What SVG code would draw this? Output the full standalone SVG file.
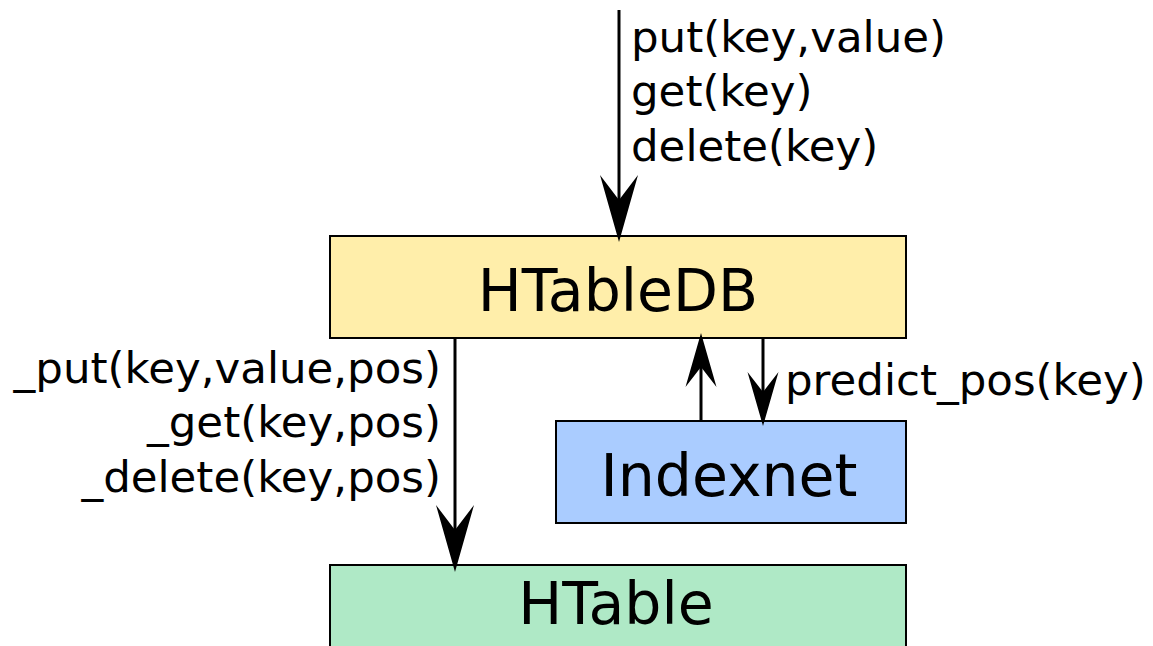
<svg xmlns="http://www.w3.org/2000/svg" width="1153" height="646" viewBox="0 0 1153 646">
  <style>
    .box { stroke: #000; stroke-width: 2; }
    .name { font-family: "DejaVu Sans", sans-serif; font-size: 58.5px; fill: #000; text-anchor: middle; }
    .lbl { font-family: "DejaVu Sans", sans-serif; font-size: 43.5px; fill: #000; }
    .wire { stroke: #000; stroke-width: 3; fill: none; }
    .big { marker-end: url(#headL); }
    .small { marker-end: url(#headS); }
  </style>
  <defs>
    <!-- arrowheads: origin sits at the notch, tip points along +x -->
    <marker id="headL" markerUnits="userSpaceOnUse" orient="auto" refX="0" refY="0" markerWidth="1" markerHeight="1" overflow="visible">
      <path d="M42,0 L-25,-19 L0,0 L-25,19 Z" fill="#000"/>
    </marker>
    <marker id="headS" markerUnits="userSpaceOnUse" orient="auto" refX="0" refY="0" markerWidth="1" markerHeight="1" overflow="visible">
      <path d="M34,0 L-20,-15.5 L0,0 L-20,15.5 Z" fill="#000"/>
    </marker>
  </defs>
  <rect width="1153" height="646" fill="#fff"/>

  <g id="htabledb">
    <rect class="box" x="330" y="236" width="576" height="102" fill="#ffeeaa"/>
    <text class="name" x="618" y="311">HTableDB</text>
  </g>
  <g id="indexnet">
    <rect class="box" x="556" y="421" width="350" height="102" fill="#aaccff"/>
    <text class="name" x="729" y="496">Indexnet</text>
  </g>
  <g id="htable">
    <rect class="box" x="330" y="565" width="576" height="100" fill="#afe9c6"/>
    <text class="name" x="616" y="624">HTable</text>
  </g>

  <g id="connectors">
    <line class="wire big" x1="619" y1="10" x2="619" y2="200"/>
    <line class="wire big" x1="455" y1="338" x2="455" y2="530"/>
    <line class="wire small" x1="701" y1="421" x2="701" y2="367"/>
    <line class="wire small" x1="763" y1="338" x2="763" y2="392"/>
  </g>

  <g id="labels">
    <text class="lbl" x="631" y="52">put(key,value)</text>
    <text class="lbl" x="631" y="106">get(key)</text>
    <text class="lbl" x="631" y="161">delete(key)</text>
    <text class="lbl" x="441" y="383" text-anchor="end">_put(key,value,pos)</text>
    <text class="lbl" x="441" y="437" text-anchor="end">_get(key,pos)</text>
    <text class="lbl" x="441" y="492" text-anchor="end">_delete(key,pos)</text>
    <text class="lbl" x="785" y="395">predict_pos(key)</text>
  </g>
</svg>
